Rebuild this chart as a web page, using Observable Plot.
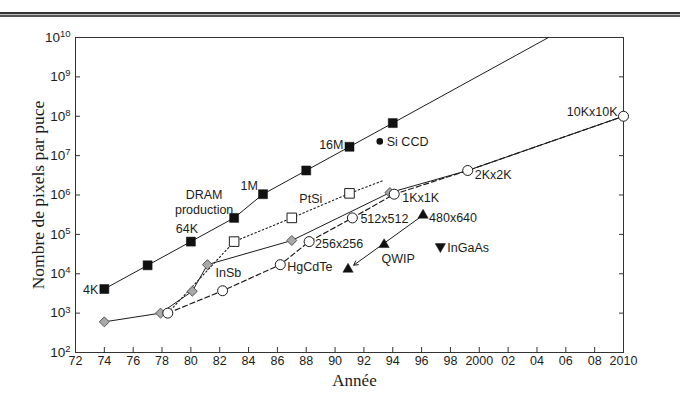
<!DOCTYPE html>
<html>
<head>
<meta charset="utf-8">
<script src="https://cdn.jsdelivr.net/npm/d3@7"></script>
<script src="https://cdn.jsdelivr.net/npm/@observablehq/plot@0.6"></script>
<style>
  body { margin: 0; background: #fff; }
  #wrap { position: relative; width: 680px; height: 400px; }
  #rule {
    position: absolute; left: 0; top: 12px; width: 680px; height: 1px;
    border-top: 2px solid #333; border-bottom: 2px solid #555; background: #bbb;
  }
  #wrap svg { position: absolute; left: 0; top: 0; }
</style>
</head>
<body>
<div id="wrap"><div id="rule"></div></div>
<script>
// DRAM production (filled squares, solid line)
const dramYears  = [1974, 1977, 1980, 1983, 1985, 1988, 1991, 1994];
const dramPixels = [4096, 16384, 65536, 262144, 1048576, 4194304, 16777216, 67108864];
// where the DRAM trend line leaves the top of the chart
const dramTrendYear = 2004.8;
const dramTrendPixels = 1e10;

// Si CCD (filled circle)
const siccdYears  = [1993.1];
const siccdPixels = [2.3e7];

// PtSi (open squares, dotted line)
const ptsiYears  = [1983, 1987, 1991];
const ptsiPixels = [65536, 262144, 1100000];
const ptsiStartYear = 1978.4, ptsiStartPixels = 1000;
const ptsiEndYear = 1993.3, ptsiEndPixels = 2300000;

// InSb (grey diamonds, solid line)
const insbYears  = [1974, 1977.9, 1980.1, 1981.15, 1987, 1993.8];
const insbPixels = [600, 1000, 3600, 17000, 70000, 1150000];

// HgCdTe (open circles, dashed line)
const hgcdteYears  = [1978.4, 1982.2, 1986.2, 1988.2, 1991.2, 1994.1, 1999.2, 2010];
const hgcdtePixels = [1000, 3700, 17000, 65536, 262144, 1048576, 4194304, 1e8];

// QWIP (filled triangles, arrow)
const qwipYears  = [1990.9, 1993.4, 1996.1];
const qwipPixels = [13000, 55000, 307200];

// InGaAs (filled down triangle)
const ingaasYears  = [1997.3];
const ingaasPixels = [49000];

// annotations, each attached to a mark
const noteText   = ["4K", "64K", "DRAM\nproduction", "1M", "16M", "Si CCD", "PtSi", "InSb", "HgCdTe",
                    "256x256", "512x512", "1Kx1K", "2Kx2K", "10Kx10K", "480x640", "QWIP", "InGaAs"];
const noteYear   = [1974, 1980, 1983, 1985, 1991, 1993.1, 1987, 1981.15, 1986.2,
                    1988.2, 1991.2, 1994.1, 1999.2, 2010, 1996.1, 1993.4, 1997.3];
const notePixels = [4096, 65536, 262144, 1048576, 16777216, 2.3e7, 262144, 17000, 17000,
                    65536, 262144, 1048576, 4194304, 1e8, 307200, 55000, 49000];

// axis ticks and titles
const yearTicks = d3.range(1972, 2011, 2);
const powerTicks = d3.range(2, 11).map(e => 10 ** e);
const xTitle = "Année";
const yTitle = "Nombre de pixels par puce";

// placement of each annotation relative to its mark: [dx, dy, anchor]
const notePlacement = [
  [-6, 0, "end"], [-4, -13, "middle"], [-30, -16, "middle"], [-5, -9, "end"], [-6, -3, "end"],
  [7, 0, "start"], [19, -20, "middle"], [8, 8, "start"], [7, 2, "start"],
  [6, 2, "start"], [8, 0, "start"], [8, 3, "start"], [7, 4, "start"], [-6, -5, "end"],
  [6, 2, "start"], [14, 14, "middle"], [7, 1, "start"]
];

const zip = (xs, ys) => xs.map((x, i) => ({year: x, pixels: ys[i]}));

const dram = zip(dramYears, dramPixels);
const dramLine = [...dram, {year: dramTrendYear, pixels: dramTrendPixels}];
const siccd = zip(siccdYears, siccdPixels);
const ptsi = zip(ptsiYears, ptsiPixels);
const ptsiLine = [{year: ptsiStartYear, pixels: ptsiStartPixels}, ...ptsi, {year: ptsiEndYear, pixels: ptsiEndPixels}];
const insb = zip(insbYears, insbPixels);
const hgcdte = zip(hgcdteYears, hgcdtePixels);
// the InSb curve joins the common projection through 2Kx2K and 10Kx10K
const insbLine = [...insb, ...hgcdte.slice(-2)];
const qwip = zip(qwipYears, qwipPixels);
const ingaas = zip(ingaasYears, ingaasPixels);
const notes = noteText.map((t, i) => ({
  text: t, year: noteYear[i], pixels: notePixels[i],
  dx: notePlacement[i][0], dy: notePlacement[i][1], anchor: notePlacement[i][2]
}));

// power-of-ten labels are written "10^n" and given a real superscript after rendering
const fmtPower = v => "10^" + Math.round(Math.log10(v));
const fmtYear = y => (y === 2000 || y === 2010) ? String(y) : String(y % 100).padStart(2, "0");

const ink = "#1c1c1c";
const sans = "'Liberation Sans', Arial, sans-serif";
const serif = "'Liberation Serif', 'Times New Roman', serif";

// dx/dy are constants in Plot, so one text mark per annotation
const noteMarks = notes.map(d =>
  Plot.text([d], {
    x: "year", y: "pixels", text: "text", textAnchor: d.anchor,
    dx: d.dx, dy: d.dy, lineHeight: 1.2,
    fill: ink, fontSize: 12.5, fontFamily: sans
  })
);

const chart = Plot.plot({
  width: 680,
  height: 400,
  marginLeft: 75,
  marginRight: 57,
  marginTop: 37,
  marginBottom: 48,
  style: {fontFamily: sans, fontSize: "12.5px", color: ink, background: "transparent"},
  x: {domain: [1972, 2010]},
  y: {type: "log", domain: [1e2, 1e10]},
  marks: [
    Plot.frame({stroke: "#333"}),
    // inward tick marks
    Plot.axisX({ticks: yearTicks, tickSize: -5, fill: "none", label: null, stroke: "#333"}),
    Plot.axisY({ticks: powerTicks, tickSize: -5, fill: "none", label: null, stroke: "#333"}),
    Plot.axisY({anchor: "right", ticks: powerTicks, tickSize: -5, fill: "none", label: null, stroke: "#333"}),
    // tick labels
    Plot.axisX({ticks: yearTicks, tickSize: 0, tickPadding: 4, tickFormat: fmtYear, label: null, fontSize: 12.5}),
    Plot.axisY({ticks: powerTicks, tickSize: 0, tickPadding: 5, tickFormat: fmtPower, label: null, fontSize: 13.5}),
    // axis titles
    Plot.text([yTitle], {
      frameAnchor: "left", textAnchor: "middle", rotate: -90, dx: -37,
      fontFamily: serif, fontSize: 17.5, fill: ink
    }),
    Plot.text([xTitle], {
      frameAnchor: "bottom", textAnchor: "middle", dy: 33, dx: 5,
      fontFamily: serif, fontSize: 17, fill: ink
    }),
    // curves
    Plot.line(dramLine, {x: "year", y: "pixels", stroke: ink, strokeWidth: 1}),
    Plot.line(ptsiLine, {x: "year", y: "pixels", stroke: ink, strokeWidth: 1.1, strokeDasharray: "1.5,2.5"}),
    Plot.line(insbLine, {x: "year", y: "pixels", stroke: ink, strokeWidth: 1}),
    Plot.line(hgcdte, {x: "year", y: "pixels", stroke: ink, strokeWidth: 1.2, strokeDasharray: "5,3"}),
    Plot.arrow([0], {
      x1: () => qwipYears[2], y1: () => qwipPixels[2],
      x2: () => qwipYears[0], y2: () => qwipPixels[0],
      stroke: ink, strokeWidth: 1, headLength: 7, insetEnd: 7
    }),
    // markers
    Plot.dot(insb, {x: "year", y: "pixels", symbol: "diamond2", r: 4.5, fill: "#a9a9a9", stroke: "#555", strokeWidth: 1}),
    Plot.dot(hgcdte, {x: "year", y: "pixels", symbol: "circle", r: 5, fill: "white", stroke: ink, strokeWidth: 1}),
    Plot.dot(ptsi, {x: "year", y: "pixels", symbol: "square", r: 5.4, fill: "white", stroke: ink, strokeWidth: 1}),
    Plot.dot(dram, {x: "year", y: "pixels", symbol: "square", r: 5.1, fill: "#111", stroke: "#111", strokeWidth: 0.5}),
    Plot.dot(siccd, {x: "year", y: "pixels", symbol: "circle", r: 3.3, fill: "#111"}),
    Plot.dot(qwip, {x: "year", y: "pixels", symbol: "triangle", r: 3.8, fill: "#111", stroke: "#111", strokeWidth: 0.5}),
    Plot.dot(ingaas, {x: "year", y: "pixels", symbol: "triangle", r: 3.8, rotate: 180, fill: "#111", stroke: "#111", strokeWidth: 0.5}),
    ...noteMarks
  ]
});

const svg = d3.select(chart);
// turn "10^n" into 10 with a raised exponent
svg.selectAll("text").each(function () {
  const m = /^10\^(\d+)$/.exec(this.textContent);
  if (!m) return;
  const el = d3.select(this);
  el.text("10");
  el.append("tspan").attr("dy", "-0.5em").attr("font-size", "0.7em").text(m[1]);
});
// keep both axis titles centred on their axis
svg.selectAll("text")
  .filter(function () { return this.textContent === yTitle || this.textContent === xTitle; })
  .attr("text-anchor", "middle");

document.getElementById("wrap").prepend(chart);
</script>
</body>
</html>
